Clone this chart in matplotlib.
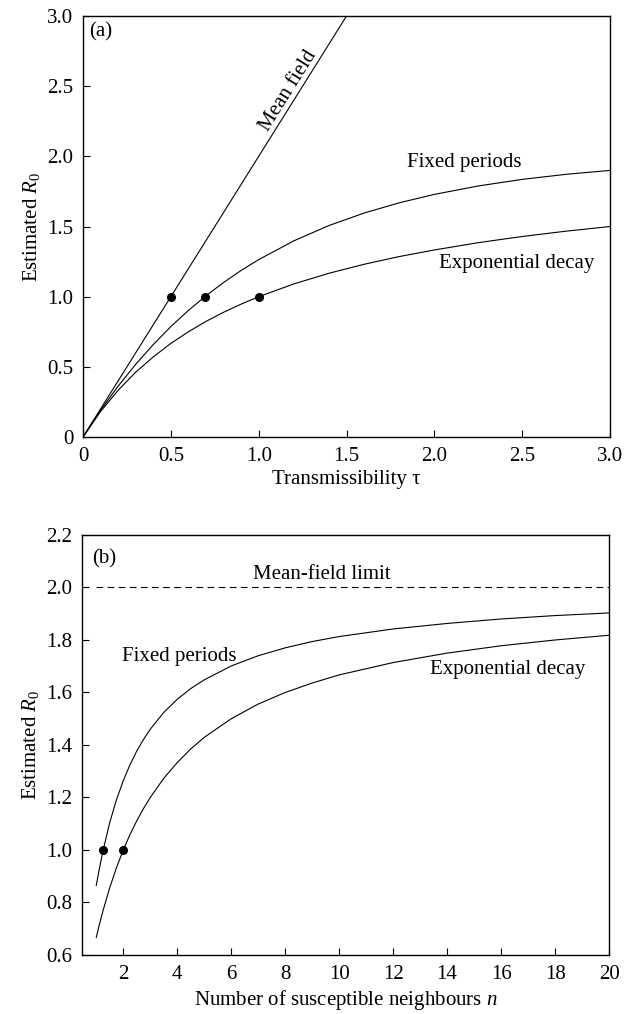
import matplotlib.pyplot as plt

plt.rcParams['font.family'] = ['Liberation Serif', 'DejaVu Serif']
plt.rcParams['mathtext.fontset'] = 'custom'
plt.rcParams['mathtext.rm'] = 'Liberation Serif'
plt.rcParams['mathtext.it'] = 'Liberation Serif:italic'
plt.rcParams['font.size'] = 15

# panel (a): estimated R0 against transmissibility
tau = [0, 0.1, 0.2, 0.3, 0.4, 0.5, 0.6, 0.7, 0.8, 0.9, 1.0, 1.2, 1.4, 1.6,
       1.8, 2.0, 2.25, 2.5, 2.75, 3.0]
fixed_a = [0, 0.190, 0.363, 0.518, 0.659, 0.787, 0.902, 1.007, 1.101, 1.187,
           1.264, 1.398, 1.507, 1.596, 1.669, 1.729, 1.789, 1.836, 1.872, 1.900]
expo_a = [0, 0.182, 0.333, 0.462, 0.571, 0.667, 0.750, 0.824, 0.889, 0.947,
          1.000, 1.091, 1.167, 1.231, 1.286, 1.333, 1.385, 1.429, 1.467, 1.500]
mean_tau = [0, 1.5]
mean_r0 = [0, 3.0]
dots_a_x = [0.5, 0.693, 1.0]
dots_a_y = [1, 1, 1]

# panel (b): estimated R0 against number of neighbours
n = [1, 1.1, 1.25, 1.5, 1.75, 2, 2.25, 2.5, 2.75, 3, 3.5, 4, 4.5, 5, 6, 7, 8,
     9, 10, 12, 14, 16, 18, 20]
fixed_b = [0.865, 0.921, 0.998, 1.105, 1.192, 1.264, 1.325, 1.377, 1.421,
           1.460, 1.524, 1.574, 1.615, 1.648, 1.701, 1.740, 1.770, 1.794,
           1.813, 1.842, 1.863, 1.880, 1.893, 1.903]
expo_b = [0.667, 0.710, 0.769, 0.857, 0.933, 1.000, 1.059, 1.111, 1.158,
          1.200, 1.273, 1.333, 1.385, 1.429, 1.500, 1.556, 1.600, 1.636,
          1.667, 1.714, 1.750, 1.778, 1.800, 1.818]
limit_n = [1, 20]
limit_r0 = [2, 2]
dots_b_x = [1.25, 2]
dots_b_y = [1, 1]

fig = plt.figure(figsize=(6.35, 10.14), dpi=100)
ax1 = fig.add_axes([0.1307, 0.569, 0.830, 0.4152])
ax2 = fig.add_axes([0.1291, 0.0582, 0.830, 0.4142])

lw = 0.8
ax1.plot(mean_tau, mean_r0, c='k', lw=lw)
ax1.plot(tau, fixed_a, c='k', lw=lw)
ax1.plot(tau, expo_a, c='k', lw=lw)
ax1.plot(dots_a_x, dots_a_y, 'o', c='k', ms=5.5)
ax1.set_xlim(0, 3)
ax1.set_ylim(0, 3)
ticks_a = [0, 0.5, 1.0, 1.5, 2.0, 2.5, 3.0]
labels_a = ['0', '0.5', '1.0', '1.5', '2.0', '2.5', '3.0']
ax1.set_xticks(ticks_a, labels_a)
ax1.set_yticks(ticks_a, labels_a)
ax1.set_xlabel('Transmissibility τ', labelpad=3)
ax1.set_ylabel('Estimated $R_0$')
ax1.text(0.012, 0.985, '(a)', transform=ax1.transAxes, va='top', ha='left')
ax1.text(1.167, 2.47, 'Mean field', rotation=58, ha='center', va='center')
ax1.text(2.169, 1.953, 'Fixed periods', ha='center', va='center')
ax1.text(2.468, 1.233, 'Exponential decay', ha='center', va='center')

ax2.plot(limit_n, limit_r0, c='k', lw=lw, ls=(0, (6, 4)))
ax2.plot(n, fixed_b, c='k', lw=lw)
ax2.plot(n, expo_b, c='k', lw=lw)
ax2.plot(dots_b_x, dots_b_y, 'o', c='k', ms=5.5)
ax2.set_xlim(0.47, 20)
ax2.set_ylim(0.6, 2.2)
xt_b = [2, 4, 6, 8, 10, 12, 14, 16, 18, 20]
ax2.set_xticks(xt_b, [str(v) for v in xt_b])
yt_b = [0.6, 0.8, 1.0, 1.2, 1.4, 1.6, 1.8, 2.0, 2.2]
ax2.set_yticks(yt_b, ['%.1f' % v for v in yt_b])
ax2.set_xlabel('Number of susceptible neighbours $n$', labelpad=3)
ax2.set_ylabel('Estimated $R_0$')
ax2.text(0.02, 0.965, '(b)', transform=ax2.transAxes, va='top', ha='left')
ax2.text(9.36, 2.048, 'Mean-field limit', ha='center', va='center')
ax2.text(4.06, 1.736, 'Fixed periods', ha='center', va='center')
ax2.text(16.25, 1.686, 'Exponential decay', ha='center', va='center')

for ax in (ax1, ax2):
    ax.tick_params(direction='in', length=5, width=0.8, top=False, right=False,
                   pad=7)
    for s in ax.spines.values():
        s.set_linewidth(1.0)

fig.savefig('out.png', dpi=100)
